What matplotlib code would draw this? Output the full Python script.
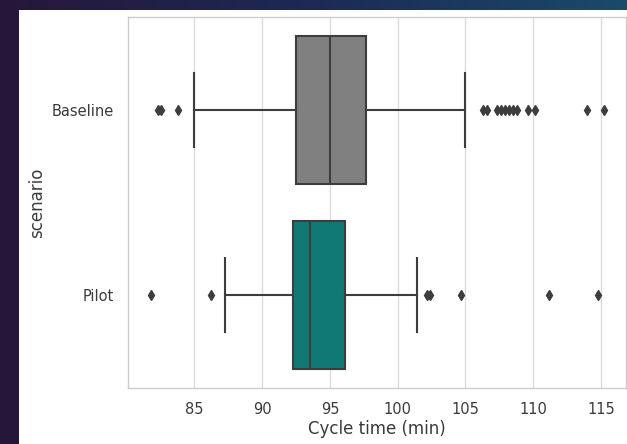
import matplotlib
matplotlib.use("Agg")
import matplotlib.pyplot as plt
import numpy as np
from matplotlib.patches import Rectangle
from matplotlib.colors import LinearSegmentedColormap

# ---- data ----
categories = ["Baseline", "Pilot"]
medians = [95.0, 93.5]
q1s = [92.5, 92.3]
q3s = [97.65, 96.1]
whisker_lo = [85.0, 87.25]
whisker_hi = [105.0, 101.45]
baseline_fliers = [82.35, 82.55, 83.8, 106.3, 106.6, 107.3, 107.6, 107.9,
                   108.2, 108.5, 108.8, 109.6, 110.1, 114.0, 115.2]
pilot_fliers = [81.8, 86.25, 102.15, 102.35, 104.65, 111.2, 114.75]
fliers = [baseline_fliers, pilot_fliers]
box_colors = ["#808080", "#117975"]
xticks = [85, 90, 95, 100, 105, 110, 115]

W, H, DPI = 627, 444, 100
fig = plt.figure(figsize=(W / DPI, H / DPI), dpi=DPI)

# dark gradient frame behind the white figure area
bg = fig.add_axes([0, 0, 1, 1], zorder=-10)
grad = np.linspace(0, 1, 256)[None, :]
cmap = LinearSegmentedColormap.from_list("frame", ["#27163a", "#1c2a55", "#1a4a6a"])
bg.imshow(grad, aspect="auto", cmap=cmap, extent=[0, 1, 0, 1])
bg.add_patch(Rectangle((19 / W, 0), 1, (H - 10) / H, facecolor="white",
                       edgecolor="none", transform=bg.transAxes))
bg.set_xlim(0, 1); bg.set_ylim(0, 1)
bg.axis("off")

ax = fig.add_axes([128 / W, 56 / H, (626 - 128) / W, (388 - 17) / H])

stats = []
for i, c in enumerate(categories):
    stats.append(dict(label=c, med=medians[i], q1=q1s[i], q3=q3s[i],
                      whislo=whisker_lo[i], whishi=whisker_hi[i], fliers=fliers[i]))

edge = "#3d3d3d"
bp = ax.bxp(stats, positions=range(len(categories)), vert=False, widths=0.8,
            patch_artist=True, showfliers=True,
            boxprops=dict(edgecolor=edge, linewidth=1.5),
            medianprops=dict(color=edge, linewidth=1.5),
            whiskerprops=dict(color=edge, linewidth=1.5),
            capprops=dict(color=edge, linewidth=1.5),
            flierprops=dict(marker="d", markerfacecolor=edge, markeredgecolor=edge,
                            markersize=5.5))
for patch, col in zip(bp["boxes"], box_colors):
    patch.set_facecolor(col)

ax.set_ylim(1.5, -0.5)
ax.set_xlim(80.1, 116.85)
ax.set_yticks(range(len(categories)))
ax.set_yticklabels(categories)
ax.set_xticks(xticks)
ax.tick_params(length=0, labelsize=10.5, colors="#3a3a3a", pad=10)
ax.grid(axis="x", color="#dcdcdc", linewidth=1)
ax.set_axisbelow(True)
for s in ax.spines.values():
    s.set_color("#cccccc")
    s.set_linewidth(1)
ax.set_xlabel("Cycle time (min)", fontsize=12, color="#3a3a3a", labelpad=2)
ax.set_ylabel("scenario", fontsize=12, color="#3a3a3a", labelpad=4)

fig.savefig("out.png", dpi=DPI)
